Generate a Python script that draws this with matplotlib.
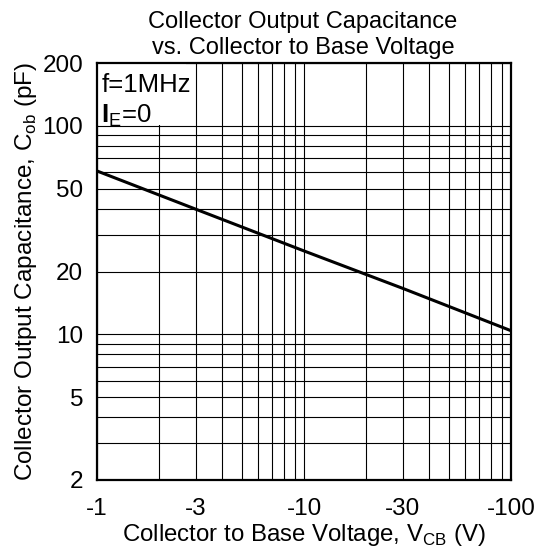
import numpy as np
import matplotlib
matplotlib.use("Agg")
import matplotlib.pyplot as plt
from matplotlib.ticker import FixedLocator, NullFormatter

plt.rcParams['font.family'] = ['Liberation Sans', 'DejaVu Sans']
plt.rcParams['mathtext.fontset'] = 'custom'
plt.rcParams['mathtext.rm'] = 'Liberation Sans'
plt.rcParams['mathtext.bf'] = 'Liberation Sans:bold'

# data (|V_CB| in volts, C_ob in pF)
vcb = [1, 3, 10, 30, 100]
cob = [60.7, 39.8, 25.1, 16.6, 10.4]

x_ticks = [1, 3, 10, 30, 100]
x_labels = ['-1', '-3', '-10', '-30', '-100']
y_ticks = [2, 5, 10, 20, 50, 100, 200]
y_labels = ['2', '5', '10', '20', '50', '100', '200']

fig = plt.figure(figsize=(5.37, 5.49), dpi=100)
ax = fig.add_axes([97/537, 69/549, 414/537, 417/549])

ax.set_xscale('log')
ax.set_yscale('log')
ax.set_xlim(1, 100)
ax.set_ylim(2, 200)

# full decade grid
xg = [m * d for d in (1, 10) for m in range(1, 10)] + [100]
yg = [m * d for d in (1, 10, 100) for m in range(1, 10) if 2 <= m * d <= 200]
for v in xg:
    ax.axvline(v, color='black', lw=0.8, zorder=1)
for v in yg:
    ax.axhline(v, color='black', lw=0.8, zorder=1)

ax.plot(vcb, cob, color='black', lw=2.2, zorder=3)

ax.xaxis.set_major_locator(FixedLocator(x_ticks))
ax.set_xticklabels(x_labels)
ax.xaxis.set_minor_formatter(NullFormatter())
ax.yaxis.set_major_locator(FixedLocator(y_ticks))
ax.set_yticklabels(y_labels)
ax.yaxis.set_minor_formatter(NullFormatter())
ax.tick_params(which='both', length=0, labelsize=17.5)
ax.tick_params(axis='x', pad=13)
ax.tick_params(axis='y', pad=10)

for s in ax.spines.values():
    s.set_linewidth(1.6)

# white box behind the condition text
ax.add_patch(plt.Rectangle((0, 0.851), 0.215, 0.149, transform=ax.transAxes,
                           facecolor='white', edgecolor='none', zorder=2))
ax.text(0.01, 0.976, 'f=1MHz', transform=ax.transAxes, fontsize=18.5,
        va='top', ha='left', zorder=4)
ax.text(0.01, 0.905, r'$\mathbf{I}_{\mathregular{E}}$=0', transform=ax.transAxes,
        fontsize=18.5, va='top', ha='left', zorder=4)

fig.text(303/537, 1 - 22/549, 'Collector Output Capacitance', ha='center', va='center', fontsize=17)
fig.text(303/537, 1 - 48/549, 'vs. Collector to Base Voltage', ha='center', va='center', fontsize=17)

ax.set_xlabel(r'Collector to Base Voltage, V$_{\mathregular{CB}}$ (V)', fontsize=17.3, labelpad=1.5)
ax.set_ylabel(r'Collector Output Capacitance, C$_{\mathregular{ob}}$ (pF)', fontsize=17.5, labelpad=2.5)

fig.savefig('out.png', dpi=100)
